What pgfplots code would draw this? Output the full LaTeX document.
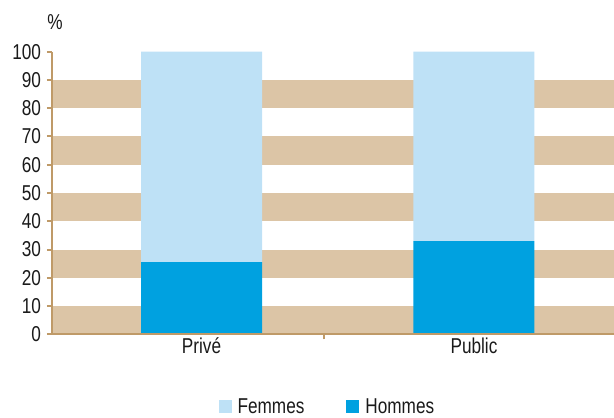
\documentclass[border=0pt]{standalone}
\usepackage{fontspec}
\setmainfont{Liberation Sans}[FakeStretch=0.8]
\usepackage{pgfplots}
\pgfplotsset{compat=1.18}
\definecolor{band}{HTML}{DCC5A6}
\definecolor{axiscol}{HTML}{BF9A68}
\definecolor{hom}{HTML}{00A1E0}
\definecolor{fem}{HTML}{BEE1F6}
\definecolor{txt}{HTML}{1A1A1A}
\pgfplotsset{base/.style={scale only axis, width=562pt, height=282.6pt,
 xmin=-0.549, xmax=1.514, ymin=0, ymax=100}}
\begin{document}
\begin{tikzpicture}[font=\fontsize{21.5}{25}\selectfont]
\begin{axis}[base, hide axis]
\fill[band] (axis cs:-0.549,0) rectangle (axis cs:1.514,10);
\fill[band] (axis cs:-0.549,20) rectangle (axis cs:1.514,30);
\fill[band] (axis cs:-0.549,40) rectangle (axis cs:1.514,50);
\fill[band] (axis cs:-0.549,60) rectangle (axis cs:1.514,70);
\fill[band] (axis cs:-0.549,80) rectangle (axis cs:1.514,90);
\end{axis}
\begin{axis}[
 base, axis on top,
 ybar stacked, bar width=121pt,
 axis x line*=bottom, axis y line*=left,
 axis line style={draw=axiscol, line width=2pt},
 ytick={0,10,...,100},
 xtick={0.45}, xticklabels={},
 extra x ticks={0,1}, extra x tick labels={Privé,Public},
 extra x tick style={major tick length=0pt},
 tick align=outside, major tick length=5pt,
 tick style={draw=axiscol, line width=2pt},
 ticklabel style={text=txt},
 yticklabel style={xshift=-2.5pt},
 /pgf/number format/assume math mode=true,
 legend style={at={(0.49,-0.256)}, anchor=center, legend columns=2, draw=none, fill=none,
   /tikz/every even column/.append style={column sep=40pt},
   /tikz/every odd column/.append style={column sep=4pt},
   text=txt, font=\fontsize{21.5}{25}\selectfont},
 legend image code/.code={\fill[#1,draw=none] (0pt,-6.5pt) rectangle (13pt,6.5pt);},
 reverse legend,
]
\addplot[fill=hom, draw=none] coordinates {(0,25.5) (1,33)};
\addlegendentry{Hommes}
\addplot[fill=fem, draw=none] coordinates {(0,74.5) (1,67)};
\addlegendentry{Femmes}
\end{axis}
\node[text=txt] at ([shift={(3pt,29.7pt)}]current axis.north west) {\%};
\pgfresetboundingbox
\path ([shift={(-52pt,-82.7pt)}]current axis.south west) rectangle ([shift={(0pt,51.7pt)}]current axis.north east);
\end{tikzpicture}
\end{document}
